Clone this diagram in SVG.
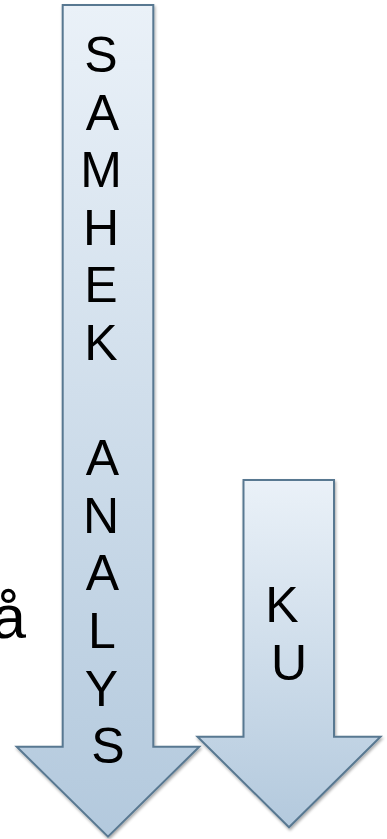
<svg xmlns="http://www.w3.org/2000/svg" width="387" height="839" viewBox="0 0 387 839">
  <defs>
    <linearGradient id="fillGrad" x1="0" y1="0" x2="0" y2="1">
      <stop offset="0" stop-color="#eaf1f8"/>
      <stop offset="1" stop-color="#b3c9dd"/>
    </linearGradient>
    <filter id="shadow" x="-10%" y="-5%" width="130%" height="115%">
      <feGaussianBlur in="SourceAlpha" stdDeviation="1.5"/>
      <feOffset dx="1" dy="2" result="b"/>
      <feComponentTransfer><feFuncA type="linear" slope="0.35"/></feComponentTransfer>
      <feMerge><feMergeNode/><feMergeNode in="SourceGraphic"/></feMerge>
    </filter>
  </defs>
  <style>
    .arrow { fill: url(#fillGrad); stroke: #587891; stroke-width: 2; stroke-linejoin: miter; filter: url(#shadow); }
    .lbl { font-family: "Liberation Sans", Arial, sans-serif; font-size: 50px; fill: #000; text-anchor: middle; }
    .body { font-family: "Liberation Sans", Arial, sans-serif; font-size: 62px; fill: #000; }
  </style>
  <g id="body-text">
    <text class="body" x="26" y="638" text-anchor="end">å</text>
  </g>
  <g id="samhek-analys">
    <polygon class="arrow" points="62.7,5 153.3,5 153.3,746.7 199.3,746.7 108,836.7 16.7,746.7 62.7,746.7"/>
    <text class="lbl">
      <tspan x="108" y="72">S</tspan>
      <tspan x="108" y="129.6">A</tspan>
      <tspan x="108" y="187.2">M</tspan>
      <tspan x="108" y="244.8">H</tspan>
      <tspan x="108" y="302.4">E</tspan>
      <tspan x="108" y="360">K</tspan>
      <tspan x="108" y="475.2">A</tspan>
      <tspan x="108" y="532.8">N</tspan>
      <tspan x="108" y="590.4">A</tspan>
      <tspan x="108" y="648">L</tspan>
      <tspan x="108" y="705.6">Y</tspan>
      <tspan x="108" y="763.2">S</tspan>
    </text>
  </g>
  <g id="ku">
    <polygon class="arrow" points="243.5,480 334,480 334,736.7 380.5,736.7 289,827.3 197.5,736.7 243.5,736.7"/>
    <text class="lbl">
      <tspan x="289" y="622">K</tspan>
      <tspan x="289" y="679.6">U</tspan>
    </text>
  </g>
  <g id="connectors"/>
</svg>
